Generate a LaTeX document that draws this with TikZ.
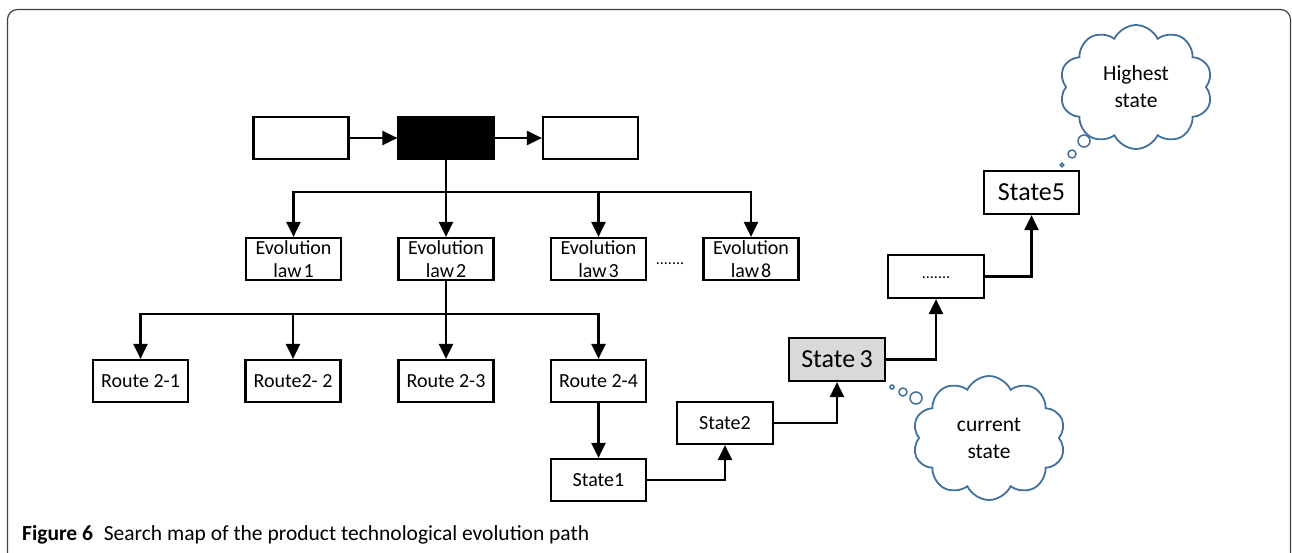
\documentclass[tikz,border=0pt]{standalone}
\usepackage{fontspec}
\setmainfont{Carlito}
\usetikzlibrary{arrows.meta,shapes.symbols,calc}
\definecolor{cloudblue}{HTML}{41719C}
\definecolor{stategray}{HTML}{D9D9D9}
\tikzset{
  box/.style={draw=black,line width=2.2pt,fill=white,minimum width=95pt,minimum height=42pt,
    inner sep=1pt,align=center,font=\fontsize{20}{23}\selectfont},
  bigbox/.style={box,font=\fontsize{26}{26}\selectfont},
  arr/.style={line width=2.4pt,-{Triangle[length=15pt,width=14pt]}},
  thought/.style={shape=cloud,draw=cloudblue,line width=1.8pt,fill=white,cloud puffs=10,
    cloud puff arc=130,cloud ignores aspect,minimum width=153pt,minimum height=124pt,inner sep=0pt,
    align=center,font=\fontsize{21.5}{27}\selectfont},
  bubble/.style={draw=cloudblue,line width=1.5pt,fill=white}
}
\begin{document}
\begin{tikzpicture}[x=1pt,y=-1pt]
\useasboundingbox (0,0) rectangle (1292,552);
% outer frame
\draw[black!75,line width=1.2pt,rounded corners=10pt] (7.5,560) -- (7.5,9.5) -- (1290.5,9.5) -- (1290.5,560);

% top row
\node[box] (pre) at (301,138) {};
\node[box,fill=black] (cur) at (446,138) {};
\node[box] (post) at (590.5,138) {};
\draw[arr] (pre.east) -- (cur.west);
\draw[arr] (cur.east) -- (post.west);

% evolution laws
\node[box] (law1) at (293.5,259) {Evolution\\law\kern2pt 1};
\node[box] (law2) at (446,259) {Evolution\\law\kern2pt 2};
\node[box] (law3) at (598.5,259) {Evolution\\law\kern2pt 3};
\node[box] (law8) at (751,259) {Evolution\\law\kern2pt 8};
\node[font=\fontsize{16}{16}\selectfont] (lawdots) at (670,264) {.......};
\foreach \n in {law1,law2,law3,law8}
  \draw[arr] (cur.south) -- ++(0,32) -| (\n.north);

% routes of law 2
\node[box] (r1) at (140.5,381) {Route 2-1};
\node[box] (r2) at (293,381) {Route2- 2};
\node[box] (r3) at (446,381) {Route 2-3};
\node[box] (r4) at (598.5,381) {Route 2-4};
\foreach \n in {r1,r2,r3,r4}
  \draw[arr] (law2.south) -- ++(0,33) -| (\n.north);

% state ladder
\node[box] (s1) at (598.5,480) {State1};
\node[box,minimum width=96pt] (s2) at (725,423) {State2};
\node[bigbox,fill=stategray,minimum width=96pt,minimum height=43pt] (s3) at (837,359.5) {State\,3};
\node[box,minimum width=96pt,minimum height=43pt,font=\fontsize{16}{16}\selectfont] (s4) at (936,276.5) {\raisebox{-4pt}{.......}};
\node[bigbox,minimum height=43pt] (s5) at (1031.5,192.5) {State5};
\draw[arr] (r4.south) -- (s1.north);
\draw[arr] (s1.east) -| (s2.south);
\draw[arr] (s2.east) -| (s3.south);
\draw[arr] (s3.east) -| (s4.south);
\draw[arr] (s4.east) -| (s5.south);

% thought clouds
\node[thought] (high) at (1136,87) {Highest\\state};
\draw[bubble] (1062,165) circle (1.8);
\draw[bubble] (1072,154) circle (4);
\draw[bubble] (1084,141) circle (6);
\node[thought] (now) at (989,438) {current\\state};
\draw[bubble] (892,387) circle (2);
\draw[bubble] (903,392) circle (4);
\draw[bubble] (916,398) circle (6);

% caption
\node[anchor=base west,inner sep=0pt] (cap) at (22,540)
  {\resizebox{567pt}{!}{\textbf{Figure 6}\hspace{0.5em}Search map of the product technological evolution path}};
\end{tikzpicture}
\end{document}
